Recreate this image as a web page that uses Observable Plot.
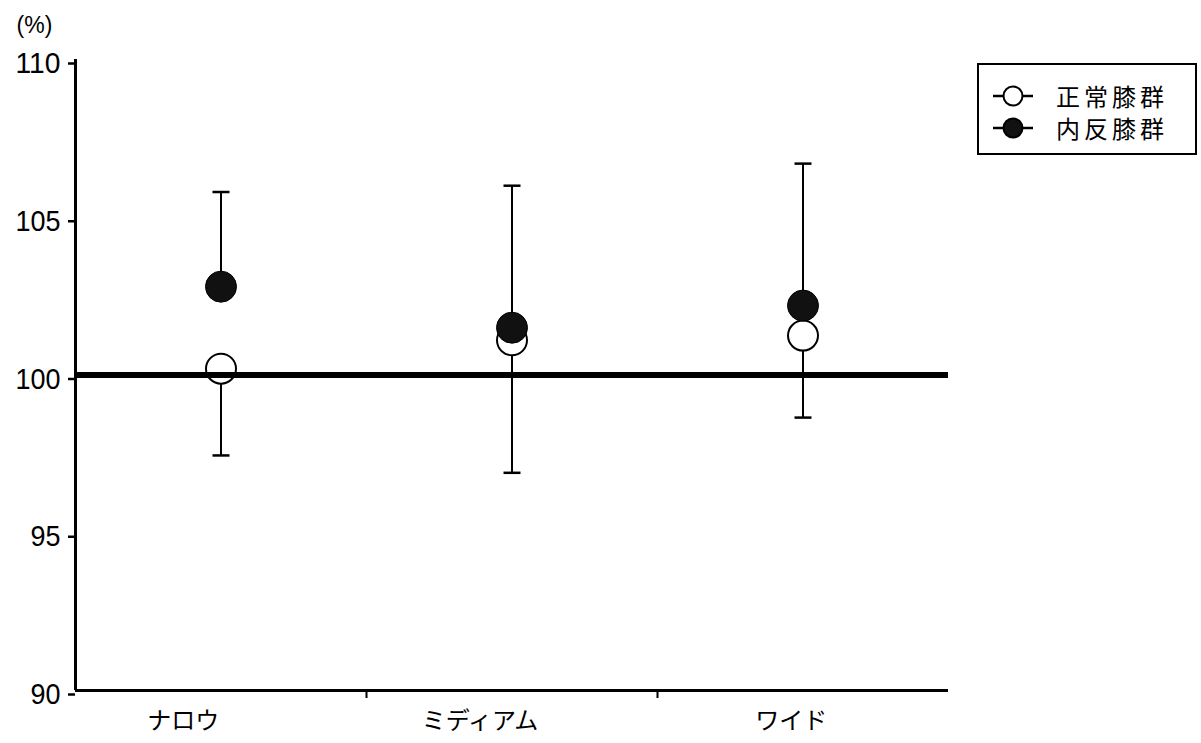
<!DOCTYPE html>
<html lang="ja">
<head>
<meta charset="utf-8">
<script src="https://cdn.jsdelivr.net/npm/d3@7"></script>
<script src="https://cdn.jsdelivr.net/npm/@observablehq/plot@0.6"></script>
<style>
  html, body { margin: 0; padding: 0; background: #fff; }
  #wrap { position: relative; width: 1201px; height: 743px; }
  #chart svg { display: block; }
  #legend {
    position: absolute; left: 977px; top: 63px; width: 216px; height: 88px;
    border: 2px solid #000; background: #fff;
    font-family: "Noto Sans CJK JP", sans-serif; font-size: 24px; color: #000;
  }
  .row { position: absolute; left: 0; width: 100%; height: 30px; }
  .row svg { position: absolute; left: 12px; top: 0; }
  .row span { position: absolute; left: 77px; top: 0; letter-spacing: 4px; white-space: nowrap; line-height: 30px; }
</style>
</head>
<body>
<div id="wrap">
  <div id="chart"></div>
  <div id="legend"></div>
</div>
<script>
// Stance width conditions and where their labels sit along the x axis
const categories = ["ナロウ", "ミディアム", "ワイド"];
const labelAt = [0.37, 1.39, 2.46];

// Series: mean (%) and SD for each group
const seriesNames = ["正常膝群", "内反膝群"];
const normalMean = [100.2, 101.1, 101.25];
const normalSd = [2.75, 4.2, 2.6];
const varusMean = [102.8, 101.5, 102.2];
const varusSd = [3.0, 4.5, 4.5];

const yTicks = [90, 95, 100, 105, 110];

const normal = categories.map((c, i) => ({cat: c, pos: i + 0.5, mean: normalMean[i], end: normalMean[i] - normalSd[i]}));
const varus = categories.map((c, i) => ({cat: c, pos: i + 0.5, mean: varusMean[i], end: varusMean[i] + varusSd[i]}));

// Horizontal cap used at the end of each error bar
const cap = {
  draw(context, size) {
    const r = Math.sqrt(size / Math.PI);
    context.moveTo(-r, 0);
    context.lineTo(r, 0);
  }
};

const jp = "'Noto Sans CJK JP', sans-serif";

const chart = Plot.plot({
  width: 1201,
  height: 743,
  marginLeft: 75,
  marginRight: 253,
  marginTop: 59,
  marginBottom: 53,
  style: {fontFamily: "'Liberation Sans', Arial, sans-serif", color: "#000", background: "#fff"},
  x: {domain: [0, categories.length], axis: null},
  y: {domain: [90, 110], axis: null},
  marks: [
    // error bars
    Plot.ruleX(normal, {x: "pos", y1: "mean", y2: "end", stroke: "#000", strokeWidth: 2}),
    Plot.ruleX(varus, {x: "pos", y1: "mean", y2: "end", stroke: "#000", strokeWidth: 2}),
    Plot.dot(normal, {x: "pos", y: "end", symbol: cap, r: 8.5, stroke: "#000", strokeWidth: 2.5, fill: "none"}),
    Plot.dot(varus, {x: "pos", y: "end", symbol: cap, r: 8.5, stroke: "#000", strokeWidth: 2.5, fill: "none"}),
    // group means
    Plot.dot(normal, {x: "pos", y: "mean", r: 15, fill: "#fff", stroke: "#000", strokeWidth: 2}),
    Plot.dot(varus, {x: "pos", y: "mean", r: 15.5, fill: "#111", stroke: "#000", strokeWidth: 1}),
    // 100% reference line
    Plot.ruleY([100], {stroke: "#000", strokeWidth: 6}),
    // axis lines
    Plot.ruleX([0], {stroke: "#000", strokeWidth: 3}),
    Plot.ruleY([90], {stroke: "#000", strokeWidth: 3}),
    // y axis
    Plot.axisY({ticks: yTicks, tickSize: 7, tickPadding: 8, tickFormat: d => String(d), fontSize: 30, dy: 4, label: null, strokeWidth: 2.5}),
    // separators between conditions
    Plot.axisX({ticks: [1, 2], tickSize: 8, tickFormat: () => "", label: null, strokeWidth: 2}),
    // condition labels
    Plot.text(categories, {x: (d, i) => labelAt[i], frameAnchor: "bottom", lineAnchor: "middle", textAnchor: "middle", dy: 31, fontSize: 24, fontFamily: jp, text: d => d}),
    // unit label
    Plot.text(["(%)"], {frameAnchor: "top-left", lineAnchor: "middle", textAnchor: "middle", dx: -41, dy: -34, fontSize: 23, text: d => d})
  ]
});

// Narrow the y tick numerals to a condensed width
chart.querySelectorAll('[aria-label="y-axis tick label"] text').forEach(t => {
  t.setAttribute("textLength", 15 * t.textContent.length);
  t.setAttribute("lengthAdjust", "spacingAndGlyphs");
});
document.getElementById("chart").append(chart);

// Legend
const legend = document.getElementById("legend");
const rows = [
  {name: seriesNames[0], fill: "#fff", top: 16},
  {name: seriesNames[1], fill: "#111", top: 48}
];
for (const r of rows) {
  const row = document.createElement("div");
  row.className = "row";
  row.style.top = r.top + "px";
  row.innerHTML = `<svg width="44" height="30" viewBox="0 0 44 30">
      <line x1="2" x2="42" y1="15" y2="15" stroke="#000" stroke-width="2.5"/>
      <circle cx="22" cy="15" r="9.5" fill="${r.fill}" stroke="#000" stroke-width="2"/>
    </svg><span>${r.name}</span>`;
  legend.append(row);
}
</script>
</body>
</html>
